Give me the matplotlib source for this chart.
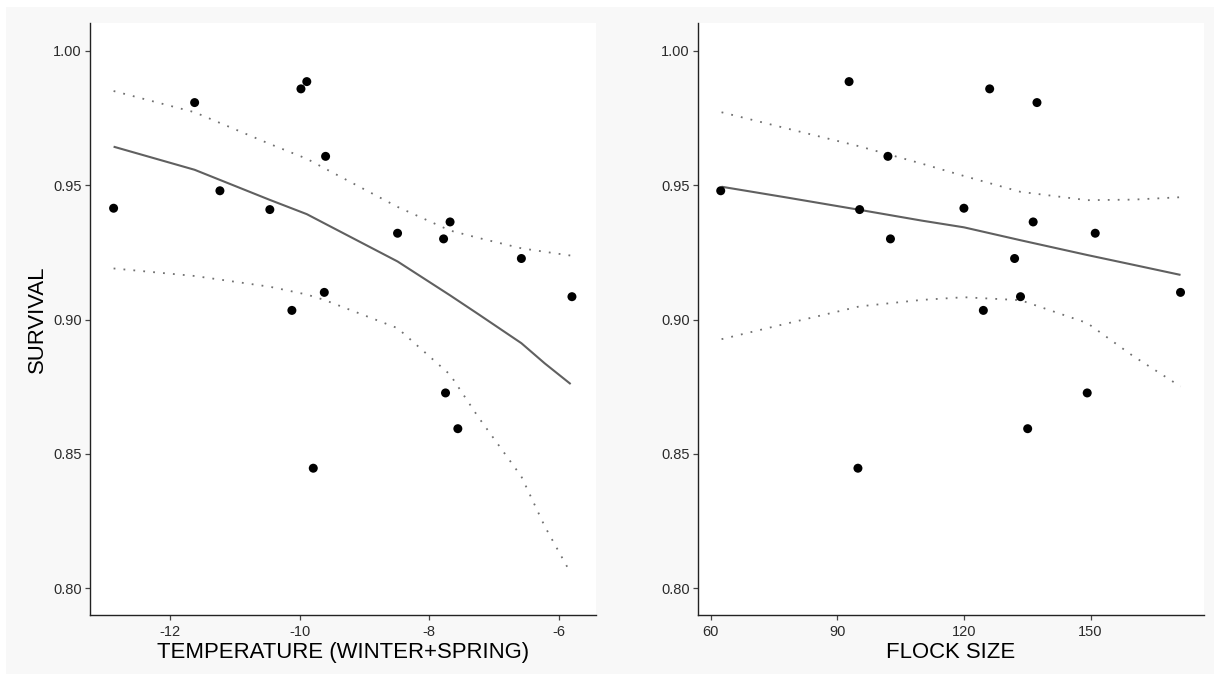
import matplotlib
matplotlib.use("Agg")
import matplotlib.pyplot as plt
from matplotlib.patches import Rectangle

plt.rcParams['font.family'] = ['Liberation Sans', 'DejaVu Sans']

# Observed data
survival = [0.9414, 0.9807, 0.9479, 0.9409, 0.9034, 0.9858, 0.9885, 0.9607, 0.9101,
            0.8447, 0.9321, 0.9300, 0.9363, 0.8727, 0.8594, 0.9227, 0.9085]
temperature = [-12.87, -11.62, -11.23, -10.46, -10.12, -9.98, -9.89, -9.60, -9.62,
               -9.79, -8.49, -7.78, -7.68, -7.75, -7.56, -6.58, -5.80]
flock_size = [120.0, 137.3, 62.4, 95.3, 124.6, 126.1, 92.8, 102.0, 171.3,
              94.9, 151.1, 102.6, 136.4, 149.2, 135.1, 132.0, 133.4]

# Fitted curves with confidence limits
temp_line_x = [-12.87, -11.62, -10.46, -9.89, -9.62, -8.49, -7.68, -7.25, -6.58, -6.22, -5.82]
temp_fit = [0.9643, 0.9557, 0.9445, 0.9392, 0.9358, 0.9216, 0.9090, 0.9021, 0.8912, 0.8837, 0.8760]
temp_upper = [0.9850, 0.9771, 0.9653, 0.9598, 0.9563, 0.9419, 0.9331, 0.9304, 0.9265, 0.9252, 0.9238]
temp_lower = [0.9190, 0.9162, 0.9122, 0.9093, 0.9073, 0.8968, 0.8795, 0.8639, 0.8416, 0.8231, 0.8057]

flock_line_x = [62.6, 78.0, 95.3, 110.0, 120.0, 133.4, 149.2, 160.0, 171.3]
flock_fit = [0.9494, 0.9454, 0.9408, 0.9368, 0.9343, 0.9295, 0.9240, 0.9204, 0.9166]
flock_upper = [0.9771, 0.9711, 0.9644, 0.9580, 0.9534, 0.9475, 0.9444, 0.9446, 0.9455]
flock_lower = [0.8927, 0.8985, 0.9049, 0.9073, 0.9083, 0.9072, 0.8987, 0.8865, 0.8751]

y_ticks = [0.80, 0.85, 0.90, 0.95, 1.00]
temp_ticks = [-12, -10, -8, -6]
flock_ticks = [60, 90, 120, 150]

W, H = 1214, 674
fig = plt.figure(figsize=(W / 100, H / 100), dpi=100, facecolor='white')
fig.patches.append(Rectangle((6 / W, 0), 1 - 6 / W, 1 - 7 / H, transform=fig.transFigure,
                             facecolor='#f8f8f8', edgecolor='none', zorder=-10))

ax1 = fig.add_axes([90 / W, 1 - 615 / H, 506 / W, 592 / H])
ax2 = fig.add_axes([698 / W, 1 - 615 / H, 506 / W, 592 / H])

line_col = '#606060'
for ax, x, lx, fit, up, lo, xticks, xlim, xlabel in [
        (ax1, temperature, temp_line_x, temp_fit, temp_upper, temp_lower, temp_ticks,
         (-13.234, -5.429), 'TEMPERATURE (WINTER+SPRING)'),
        (ax2, flock_size, flock_line_x, flock_fit, flock_upper, flock_lower, flock_ticks,
         (57.02, 176.86), 'FLOCK SIZE')]:
    ax.set_facecolor('white')
    ax.plot(lx, fit, color=line_col, lw=1.5, solid_capstyle='butt', zorder=2)
    ax.plot(lx, up, color='#707070', lw=1.3, linestyle=(0, (1, 4.5)), zorder=2)
    ax.plot(lx, lo, color='#707070', lw=1.3, linestyle=(0, (1, 4.5)), zorder=2)
    ax.scatter(x, survival, s=42, color='black', edgecolors='none', zorder=3)
    ax.set_xlim(*xlim)
    ax.set_ylim(0.7901, 1.0103)
    ax.set_xticks(xticks)
    ax.set_xticklabels([str(t) for t in xticks])
    ax.set_yticks(y_ticks)
    ax.set_yticklabels([f'{t:.2f}' for t in y_ticks])
    for s in ['top', 'right']:
        ax.spines[s].set_visible(False)
    for s in ['left', 'bottom']:
        ax.spines[s].set_color('#222222')
        ax.spines[s].set_linewidth(1.0)
    ax.tick_params(axis='both', length=3.6, width=0.9, color='#444444',
                   labelsize=10.5, labelcolor='#2b2b2b', pad=2.4)
    ax.tick_params(axis='x', pad=3.5)
    ax.set_xlabel(xlabel, fontsize=15.9, color='black', labelpad=2.5)

ax1.set_ylabel('SURVIVAL', fontsize=15.9, color='black', labelpad=4)

fig.savefig('out.png', dpi=100, facecolor=fig.get_facecolor())
